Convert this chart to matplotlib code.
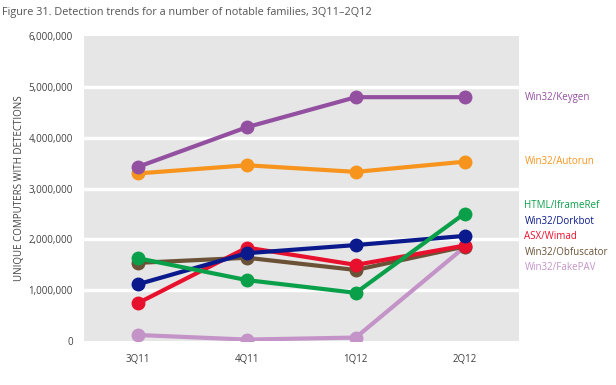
import matplotlib.pyplot as plt

plt.rcParams['font.family'] = ['Open Sans', 'DejaVu Sans']

quarters = ['3Q11', '4Q11', '1Q12', '2Q12']

# values in computers
keygen = [3430000, 4210000, 4800000, 4800000]
autorun = [3300000, 3460000, 3330000, 3530000]
iframeref = [1630000, 1200000, 950000, 2510000]
dorkbot = [1120000, 1730000, 1890000, 2070000]
wimad = [750000, 1840000, 1500000, 1880000]
obfuscator = [1540000, 1640000, 1400000, 1860000]
fakepav = [120000, 30000, 70000, 1850000]

# drawn from back to front
series = [
    ('Win32/FakePAV', fakepav, '#c493c8'),
    ('Win32/Obfuscator', obfuscator, '#6b5236'),
    ('ASX/Wimad', wimad, '#e8112d'),
    ('Win32/Dorkbot', dorkbot, '#0a1a8c'),
    ('HTML/IframeRef', iframeref, '#0aa04a'),
    ('Win32/Autorun', autorun, '#f7941d'),
    ('Win32/Keygen', keygen, '#9450a0'),
]

# label positions on the right (data units)
label_y = {
    'Win32/Keygen': 4800000,
    'Win32/Autorun': 3530000,
    'HTML/IframeRef': 2660000,
    'Win32/Dorkbot': 2350000,
    'ASX/Wimad': 2050000,
    'Win32/Obfuscator': 1740000,
    'Win32/FakePAV': 1440000,
}

fig = plt.figure(figsize=(6.16, 3.85), dpi=100)
ax = fig.add_axes([0.136, 0.114, 0.7065, 0.792])
ax.set_facecolor('#e6e6e6')

x = list(range(len(quarters)))
for name, vals, col in series:
    ax.plot(x, vals, color=col, lw=3, marker='o', ms=9,
            solid_capstyle='round', zorder=3)
    ax.text(3.55, label_y[name], name, color=col, fontsize=7,
            va='center', ha='left', clip_on=False)

ax.set_xlim(-0.5, 3.5)
ax.set_ylim(0, 6000000)
ax.set_yticks(range(0, 6000001, 1000000))
ax.set_yticklabels([f'{v:,}' for v in range(0, 6000001, 1000000)])
ax.set_xticks(x)
ax.set_xticklabels(quarters)
ax.tick_params(length=0, labelsize=7, colors='#404040', pad=8)
ax.tick_params(axis='x', pad=9)

for v in range(1000000, 6000000, 1000000):
    ax.axhline(v, color='white', lw=2.5, zorder=1)
for s in ax.spines.values():
    s.set_visible(False)

ax.set_ylabel('UNIQUE COMPUTERS WITH DETECTIONS', fontsize=7,
              color='#404040', va='center')
ax.yaxis.set_label_coords(-0.148, 0.5)

fig.text(0.003, 0.968, 'Figure 31. Detection trends for a number of notable families, 3Q11\u20132Q12',
         fontsize=7.8, color='#555555', ha='left', va='center')

fig.savefig('out.png', dpi=100, facecolor='white')
